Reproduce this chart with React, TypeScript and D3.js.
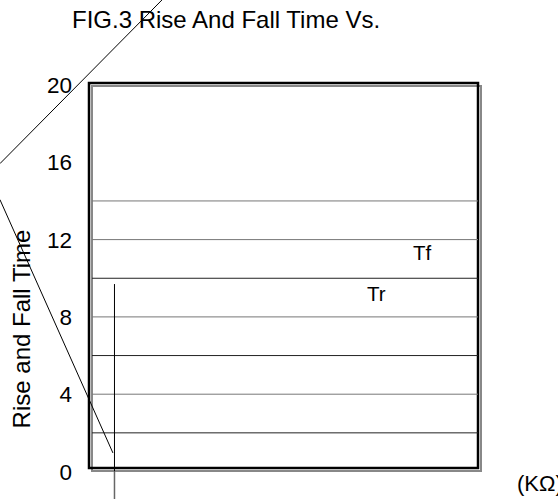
import React from "react";
import * as d3 from "d3";

const W = 558;
const H = 499;

const title = "FIG.3 Rise And Fall Time Vs.";
const yTitle = "Rise and Fall Time";
const xUnit = "(KΩ)";
const yTicks = [0, 4, 8, 12, 16, 20];
const gridValues = [2, 4, 6, 8, 10, 12, 14];
const gridDark = [true, false, true, false, true, false, false];
const seriesLabels = [
  { name: "Tf", x: 16.66, y: 10.96 },
  { name: "Tr", x: 14.29, y: 8.83 },
];
// curve fragments (x in KΩ units of plot, y in time units)
const tfCurveX = [3.75, -4.58];
const tfCurveY = [24.4, 15.93];
const trCurveX = [-4.58, 1.23];
const trCurveY = [14.07, 0.96];
const markerX = [1.31, 1.31];
const markerY = [9.7, 0];
const markerTailY = [0, -1.5];

export default function App() {
  const left = 89, right = 478;
  const x = d3.scaleLinear().domain([0, 20]).range([left, right]);
  const y = d3.scaleLinear().domain([0, 20]).range([471.5, 85]);
  const top = 83, bottom = 468;
  const line = d3.line<[number, number]>().x((d) => x(d[0])).y((d) => y(d[1]));
  const zip = (a: number[], b: number[]) => a.map((v, i) => [v, b[i]] as [number, number]);
  const font = "Liberation Sans, Arial, sans-serif";

  return (
    <svg width={W} height={H} style={{ position: "fixed", left: 0, top: 0, background: "#fff" }} fontFamily={font}>
      <rect width={W} height={H} fill="#fff" />
      <text x={72} y={28} fontSize={24} fill="#000">{title}</text>
      {/* frame */}
      <rect x={left + 3} y={top + 3} width={right - left} height={bottom - top} fill="none" stroke="#888" strokeWidth={2} />
      <rect x={left} y={top} width={right - left} height={bottom - top} fill="none" stroke="#000" strokeWidth={2.5} />
      {gridValues.map((v, i) => (
        <line key={v} x1={left + 3} x2={right} y1={y(v)} y2={y(v)} stroke={gridDark[i] ? "#222" : "#777"} strokeWidth={1} />
      ))}
      {yTicks.map((v) => (
        <text key={v} x={72} y={y(v)} dy="0.36em" textAnchor="end" fontSize={22.5} fill="#000">{v}</text>
      ))}
      <text transform={`translate(30,${329}) rotate(-90)`} textAnchor="middle" fontSize={24} fill="#000">{yTitle}</text>
      {seriesLabels.map((s) => (
        <text key={s.name} x={x(s.x)} y={y(s.y)} fontSize={20.5} fill="#000">{s.name}</text>
      ))}
      <path d={line(zip(tfCurveX, tfCurveY)) || ""} stroke="#000" fill="none" strokeWidth={1} />
      <path d={line(zip(trCurveX, trCurveY)) || ""} stroke="#000" fill="none" strokeWidth={1} />
      <path d={line(zip(markerX, markerY)) || ""} stroke="#000" fill="none" strokeWidth={1} />
      <path d={line(zip(markerX, markerTailY)) || ""} stroke="#666" fill="none" strokeWidth={1.5} />
      <text x={517} y={491} fontSize={22} fill="#000">{xUnit}</text>
    </svg>
  );
}
